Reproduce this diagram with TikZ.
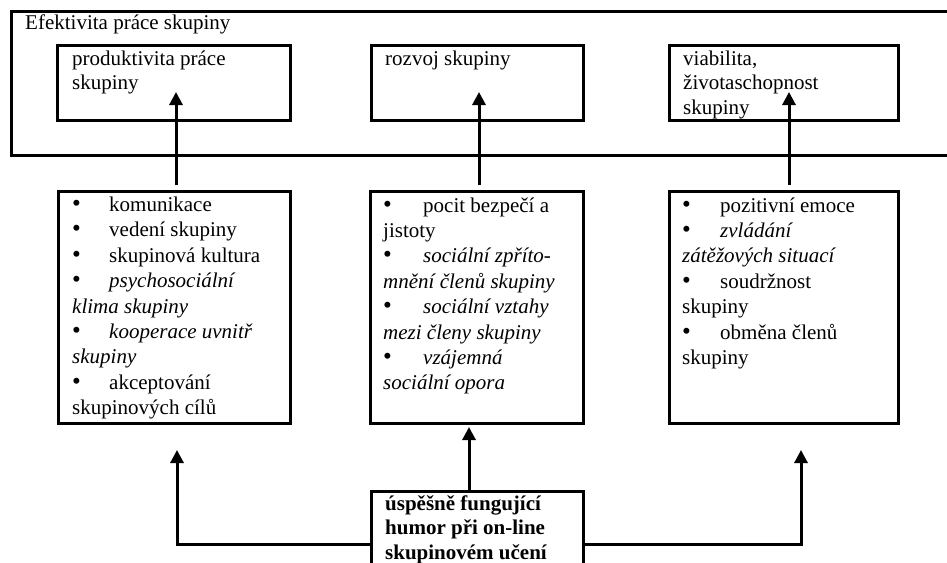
\documentclass[tikz,border=0pt]{standalone}
\usepackage{fontspec}
\setmainfont{Liberation Serif}
\usetikzlibrary{arrows.meta}
\newcommand\blt[1][37pt]{\makebox[#1][l]{{\fontsize{25}{25}\selectfont\textbullet}}}
\begin{document}
\begin{tikzpicture}[x=1pt,y=-1pt,
  box/.style={draw,line width=2.5pt,inner sep=0pt,anchor=north west},
  arr/.style={line width=3pt,-{Triangle[width=13pt,length=13pt]}},
  txt/.style={anchor=base west,inner sep=0pt,font=\fontsize{21}{25.4}\selectfont},
  toptxt/.style={txt,font=\fontsize{21}{24.5}\selectfont},
  boldtxt/.style={txt,font=\fontsize{21}{24.5}\selectfont\bfseries}]
\useasboundingbox (0,0) rectangle (947,562);
\clip (0,0) rectangle (947,562);
% outer frame
\node[box,minimum width=960pt,minimum height=144pt] (outer) at (10,10) {};
\node[txt] (title) at (25,29) {Efektivita práce skupiny};
% top boxes
\node[box,minimum width=233pt,minimum height=75pt] (top1) at (56,44) {};
\node[box,minimum width=212pt,minimum height=75pt] (top2) at (370,44) {};
\node[box,minimum width=229pt,minimum height=75pt] (top3) at (668,44) {};
\node[toptxt] (t1) at (72,65) {\parbox[t]{210pt}{produktivita práce\\ skupiny}};
\node[toptxt] (t2) at (385,65) {\parbox[t]{190pt}{rozvoj skupiny}};
\node[toptxt] (t3) at (683,65) {\parbox[t]{205pt}{viabilita,\\ životaschopnost\\ skupiny}};
% middle boxes
\node[box,minimum width=232pt,minimum height=232pt] (midA) at (57,190) {};
\node[box,minimum width=213pt,minimum height=232pt] (midB) at (369,190) {};
\node[box,minimum width=229pt,minimum height=232pt] (midC) at (668,190) {};
\node[txt] (tA) at (72,211.5) {\parbox[t]{215pt}{%
  \blt komunikace\\
  \blt vedení skupiny\\
  \blt skupinová kultura\\
  \blt\textit{psychosociální}\\
  \textit{klima skupiny}\\
  \blt\textit{kooperace uvnitř}\\
  \textit{skupiny}\\
  \blt akceptování\\
  skupinových cílů}};
\node[txt] (tB) at (383,212) {\parbox[t]{195pt}{%
  \blt[40pt]pocit bezpečí a\\
  jistoty\\
  \blt[40pt]\textit{sociální zpříto-}\\
  \textit{mnění členů skupiny}\\
  \blt[40pt]\textit{sociální vztahy}\\
  \textit{mezi členy skupiny}\\
  \blt[40pt]\textit{vzájemná}\\
  \textit{sociální opora}}};
\node[txt] (tC) at (682,212) {\parbox[t]{210pt}{%
  \blt[38pt]pozitivní emoce\\
  \blt[38pt]\textit{zvládání}\\
  \textit{zátěžových situací}\\
  \blt[38pt]soudržnost\\
  skupiny\\
  \blt[38pt]obměna členů\\
  skupiny}};
% bottom box
\node[box,minimum width=212pt,minimum height=110pt] (bot) at (370,490) {};
\node[boldtxt] (tbot) at (385,510) {\parbox[t]{195pt}{úspěšně fungující\\ humor při on-line\\ skupinovém učení}};
% arrow end points
\coordinate (a1e) at (176,92);
\coordinate (a2e) at (479,92);
\coordinate (a3e) at (789,92);
\coordinate (a4e) at (177,450);
\coordinate (a5e) at (469,427);
\coordinate (a6e) at (801,450);
\coordinate (hy) at (0,544);
% arrows
\draw[arr] ([yshift=5pt]midA.north -| a1e) -- (a1e);
\draw[arr] ([yshift=5pt]midB.north -| a2e) -- (a2e);
\draw[arr] ([yshift=5pt]midC.north -| a3e) -- (a3e);
\draw[arr] (bot.north -| a5e) -- (a5e);
\draw[arr] (bot.west |- hy) -| (a4e);
\draw[arr] (bot.east |- hy) -| (a6e);
\end{tikzpicture}
\end{document}
